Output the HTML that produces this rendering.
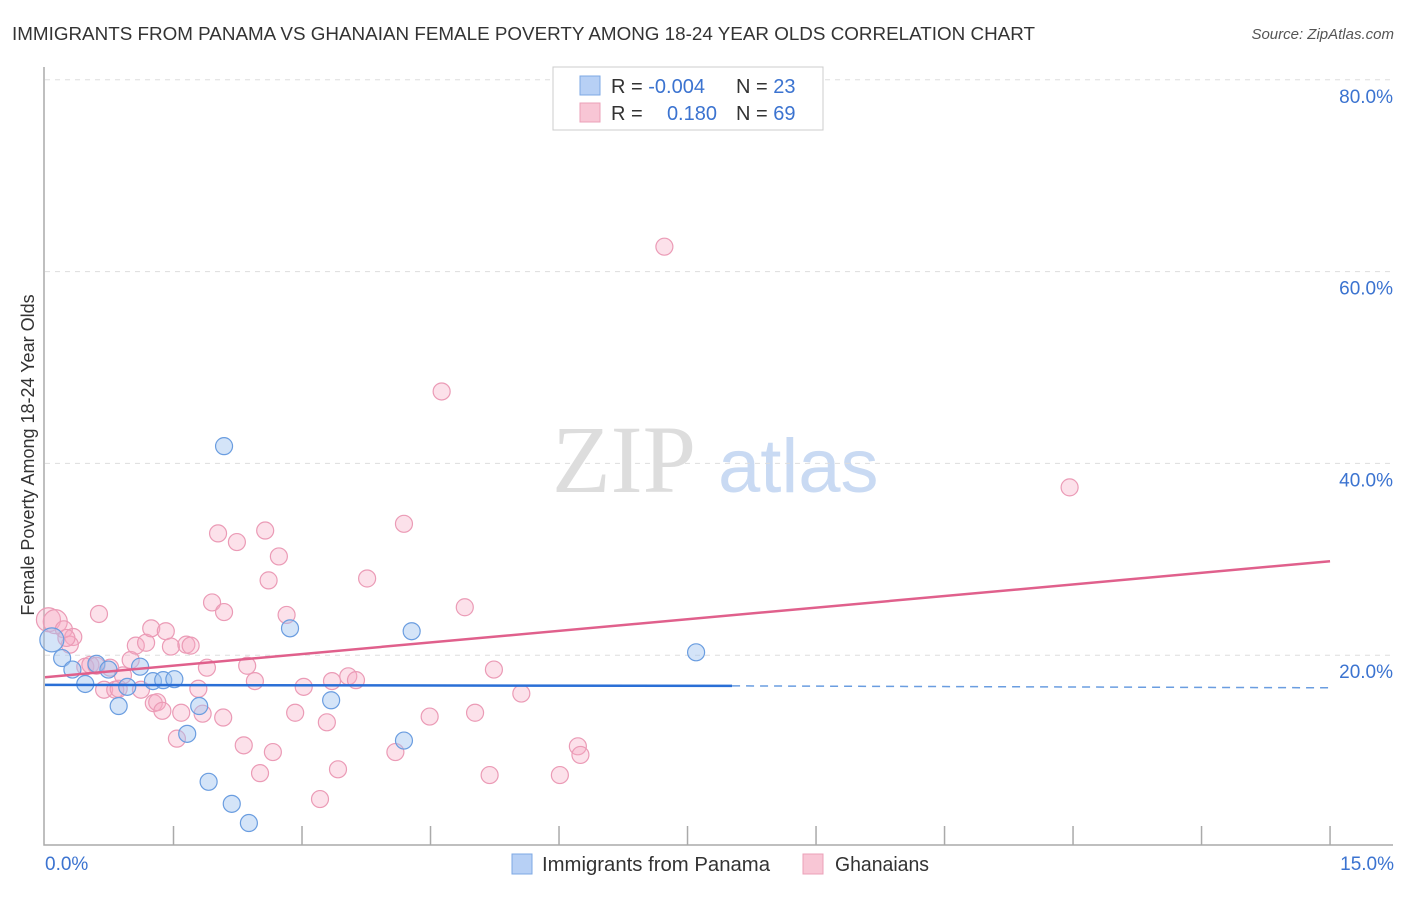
<!DOCTYPE html>
<html><head><meta charset="utf-8"><style>
body{margin:0;background:#fff;font-family:"Liberation Sans",sans-serif;}
</style></head><body>
<svg width="1406" height="892" xmlns="http://www.w3.org/2000/svg" font-family="Liberation Sans, sans-serif">
<text x="12" y="40" font-size="18" fill="#333" textLength="1023" lengthAdjust="spacingAndGlyphs">IMMIGRANTS FROM PANAMA VS GHANAIAN FEMALE POVERTY AMONG 18-24 YEAR OLDS CORRELATION CHART</text>
<text x="1394" y="39" font-size="15" fill="#555" font-style="italic" text-anchor="end">Source: ZipAtlas.com</text>
<g>
<text x="552" y="492" font-size="96" fill="#ddd" font-family="Liberation Serif, serif">ZIP</text>
<text x="718" y="492" font-size="76" fill="#c9daf3">atlas</text>
</g>
<g id="grid"></g>
<g id="axes"></g>
<g id="marks"></g>
<g>
<rect x="553" y="67" width="270" height="63" fill="#fff" stroke="#ccc"/>
<rect x="580" y="76" width="20" height="19" fill="#b7d0f5" stroke="#7ea8e4"/>
<rect x="580" y="103" width="20" height="19" fill="#f8c6d5" stroke="#eba0b8"/>
<text x="611" y="93" font-size="20" fill="#333">R = <tspan fill="#3b73d0">-0.004</tspan></text>
<text x="736" y="93" font-size="20" fill="#333">N = <tspan fill="#3b73d0">23</tspan></text>
<text x="611" y="120" font-size="20" fill="#333">R = </text>
<text x="717" y="120" font-size="20" fill="#3b73d0" text-anchor="end">0.180</text>
<text x="736" y="120" font-size="20" fill="#333">N = <tspan fill="#3b73d0">69</tspan></text>
</g>
<g>
<rect x="512" y="854" width="20" height="20" fill="#b7d0f5" stroke="#7ea8e4"/>
<text x="542" y="871" font-size="20" fill="#333" textLength="228" lengthAdjust="spacingAndGlyphs">Immigrants from Panama</text>
<rect x="803" y="854" width="20" height="20" fill="#f8c6d5" stroke="#eba0b8"/>
<text x="835" y="871" font-size="20" fill="#333" textLength="94" lengthAdjust="spacingAndGlyphs">Ghanaians</text>
</g>
<text transform="translate(34,455) rotate(-90)" font-size="18" fill="#333" text-anchor="middle">Female Poverty Among 18-24 Year Olds</text>
</svg>
<script>
const blueX=[0.08,0.20,0.32,0.47,0.60,0.74,0.86,0.96,1.11,1.26,1.38,1.51,1.66,1.80,1.91,2.09,2.18,2.38,2.86,3.34,4.19,4.28,7.60];
const blueY=[21.6,19.7,18.5,17.0,19.1,18.5,14.7,16.7,18.8,17.3,17.4,17.5,11.8,14.7,6.8,41.8,4.5,2.5,22.8,15.3,11.1,22.5,20.3];
const pinkX=[0.04,0.12,0.22,0.33,0.29,0.25,0.63,0.47,0.53,0.60,0.69,0.76,0.82,0.86,0.91,1.00,1.06,1.12,1.18,1.24,1.27,1.31,1.37,1.41,1.47,1.54,1.59,1.65,1.70,1.79,1.84,1.89,1.95,2.02,2.09,2.08,2.24,2.32,2.36,2.45,2.51,2.57,2.61,2.66,2.73,2.82,2.92,3.02,3.21,3.29,3.35,3.42,3.54,3.63,3.76,4.09,4.19,4.49,4.63,4.90,5.02,5.19,5.24,5.56,6.01,6.22,6.25,7.23,11.96];
const pinkY=[23.7,23.5,22.7,21.9,21.1,21.8,24.3,18.8,19.0,18.9,16.4,18.7,16.4,16.5,17.9,19.5,21.0,16.4,21.3,22.8,15.0,15.1,14.2,22.5,20.9,11.3,14.0,21.1,21.0,16.5,13.9,18.7,25.5,32.7,24.5,13.5,31.8,10.6,18.9,17.3,7.7,33.0,27.8,9.9,30.3,24.2,14.0,16.7,5.0,13.0,17.3,8.1,17.8,17.4,28.0,9.9,33.7,13.6,47.5,25.0,14.0,7.5,18.5,16.0,7.5,10.5,9.6,62.6,37.5];
const blueTrendX=[0,8.02,15];
const blueTrendY=[16.9,16.8,16.6];
const pinkTrendX=[0,15];
const pinkTrendY=[17.7,29.8];
const yTicks=[20,40,60,80];
const yTickLabels=["20.0%","40.0%","60.0%","80.0%"];
const xTicks=[0,1.5,3,4.5,6,7.5,9,10.5,12,13.5,15];
const xEdgeLabels=["0.0%","15.0%"];

const NS="http://www.w3.org/2000/svg";
const X=v=>45+v*85.67, Y=v=>847-v*9.59;
function mk(tag,attrs,parent){const e=document.createElementNS(NS,tag);for(const k in attrs)e.setAttribute(k,attrs[k]);parent.appendChild(e);return e;}
const grid=document.getElementById('grid'),axes=document.getElementById('axes'),marks=document.getElementById('marks');
yTicks.forEach((t,i)=>{
  const l=mk('line',{x1:45,x2:1392,y1:Y(t),y2:Y(t),stroke:'#ddd','stroke-dasharray':'5,5'},grid);
  
  
  const tx=mk('text',{x:1393,y:Y(t)+23,'font-size':19,fill:'#3b73d0','text-anchor':'end'},grid);
  tx.textContent=yTickLabels[i];
  
  
});
const ax=mk('path',{d:`M44 67 V845 H1393`,stroke:'#aaa',fill:'none','stroke-width':1.5},axes);


xTicks.forEach((t,i)=>{if(i===0)return;
  const l=mk('line',{x1:X(t),x2:X(t),y1:826,y2:845,stroke:'#aaa','stroke-width':1.5},axes);
  
  
});
[[xTicks[0],'start',45],[xTicks[xTicks.length-1],'end',1394]].forEach((a,i)=>{
  const tx=mk('text',{x:a[2],y:870,'font-size':19,fill:'#3b73d0','text-anchor':a[1]},axes);
  tx.textContent=xEdgeLabels[i];
  
  
});
function dots(xs,ys,fill,stroke,name){
  xs.forEach((x,i)=>{
    const r=(x<0.15)?12:8.5;
    const c=mk('circle',{cx:X(x),cy:Y(ys[i]),r:r,fill:fill,stroke:stroke,'stroke-width':1.2},marks);
    
    
  });
}
dots(pinkX,pinkY,'rgba(245,170,195,0.35)','#eb9bb6','ghanaian-point');
dots(blueX,blueY,'rgba(160,195,240,0.45)','#6a9de0','panama-point');
const bl=mk('line',{x1:X(blueTrendX[0]),y1:Y(blueTrendY[0]),x2:X(blueTrendX[1]),y2:Y(blueTrendY[1]),stroke:'#2a6fd6','stroke-width':2.5},marks);


const bd=mk('line',{x1:X(blueTrendX[1]),y1:Y(blueTrendY[1]),x2:X(blueTrendX[2]),y2:Y(blueTrendY[2]),stroke:'#6a9de0','stroke-width':1.5,'stroke-dasharray':'8,6'},marks);


const pl=mk('line',{x1:X(pinkTrendX[0]),y1:Y(pinkTrendY[0]),x2:X(pinkTrendX[1]),y2:Y(pinkTrendY[1]),stroke:'#e0608c','stroke-width':2.5},marks);


</script>
</body></html>
